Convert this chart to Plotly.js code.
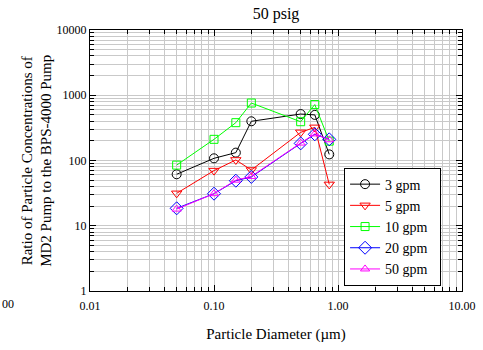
<!DOCTYPE html>
<html>
<head>
<meta charset="utf-8">
<script src="https://cdn.plot.ly/plotly-3.0.1.min.js"></script>
<style>
  html, body { margin: 0; padding: 0; background: #ffffff; }
  #chart { width: 483px; height: 350px; }
</style>
</head>
<body>
<div id="chart"></div>
<script>
// Particle diameters (µm) at which concentrations were compared
const diameters = [0.05, 0.1, 0.15, 0.2, 0.5, 0.65, 0.85];

// Concentration ratio, MD2 pump / BPS-4000 pump, at 50 psig
const ratio3gpm  = [61.5, 108, 132, 399, 515, 500, 124];
const ratio5gpm  = [31.4, 70, 102, 71.5, 270, 322, 43];
const ratio10gpm = [85, 211, 380, 760, 393, 720, 198];
const ratio20gpm = [18.5, 31, 49, 56, 183, 252, 211];
const ratio50gpm = [18, 31, 50, 57, 185, 256, 208];

const seriesNames = ['3 gpm', '5 gpm', '10 gpm', '20 gpm', '50 gpm'];
const seriesValues = [ratio3gpm, ratio5gpm, ratio10gpm, ratio20gpm, ratio50gpm];
const seriesColors = ['#000000', '#ff0000', '#00ff00', '#0000ff', '#ff00ff'];
const seriesSymbols = ['circle-open', 'triangle-down-open', 'square-open', 'diamond-open', 'triangle-up-open'];
const seriesSizes = [9, 9, 8, 10, 8];

const xTickVals = [0.01, 0.1, 1, 10];
const xTickText = ['0.01', '0.10', '1.00', '10.00'];
const yTickVals = [1, 10, 100, 1000, 10000];
const yTickText = ['1', '10', '100', '1000', '10000'];

// minor ticks at 2..9 within each decade
function minorLogTicks(lo, hi) {
  const out = [];
  for (let e = lo; e < hi; e++) {
    for (let m = 2; m <= 9; m++) out.push(m * Math.pow(10, e));
  }
  return out;
}

const serif = 'Liberation Serif, Times New Roman, serif';
const gridColor = '#c9c9c9';
// a little right-hand padding inside the legend box
const legendPad = '\u00a0\u00a0';

const traces = seriesNames.map((name, i) => ({
  type: 'scatter',
  mode: 'lines+markers',
  name: name + legendPad,
  x: diameters,
  y: seriesValues[i],
  line: { color: seriesColors[i], width: 1 },
  marker: {
    symbol: seriesSymbols[i],
    size: seriesSizes[i],
    color: seriesColors[i],
    line: { color: seriesColors[i], width: 1 }
  }
}));

const axisCommon = {
  type: 'log',
  showline: true,
  linecolor: '#000000',
  linewidth: 1,
  mirror: 'allticks',
  ticks: 'inside',
  ticklen: 6,
  tickcolor: '#000000',
  tickwidth: 1,
  showgrid: true,
  gridcolor: gridColor,
  gridwidth: 1,
  zeroline: false,
  tickfont: { family: serif, size: 12, color: '#000000' }
};

const layout = {
  width: 483,
  height: 350,
  paper_bgcolor: '#ffffff',
  plot_bgcolor: '#ffffff',
  margin: { l: 90, r: 21, t: 30, b: 59 },
  showlegend: true,
  title: {
    text: '50 psig',
    font: { family: serif, size: 16, color: '#000000' },
    x: 0.5, xref: 'paper',
    y: 0.962, yref: 'container', yanchor: 'middle'
  },
  xaxis: Object.assign({}, axisCommon, {
    range: [-2, 1],
    tickmode: 'array',
    tickvals: xTickVals,
    ticktext: xTickText,
    ticklabelstandoff: 4,
    minor: {
      tickmode: 'array',
      tickvals: minorLogTicks(-2, 1),
      ticks: 'inside',
      ticklen: 4,
      tickcolor: '#000000',
      showgrid: true,
      gridcolor: gridColor,
      gridwidth: 1
    },
    title: {
      text: 'Particle Diameter (\u00b5m)',
      font: { family: serif, size: 15, color: '#000000' },
      standoff: 16
    }
  }),
  yaxis: Object.assign({}, axisCommon, {
    range: [0, 4],
    tickmode: 'array',
    tickvals: yTickVals,
    ticktext: yTickText,
    minor: {
      tickmode: 'array',
      tickvals: minorLogTicks(0, 4),
      ticks: 'inside',
      ticklen: 4,
      tickcolor: '#000000',
      showgrid: true,
      gridcolor: gridColor,
      gridwidth: 1
    }
  }),
  legend: {
    x: 0.683, xanchor: 'left',
    y: 0.473, yanchor: 'top',
    bgcolor: '#ffffff',
    bordercolor: '#000000',
    borderwidth: 1,
    font: { family: serif, size: 14, color: '#000000' },
    itemwidth: 30
  },
  annotations: [
    {
      // two-line vertical axis title
      text: 'Ratio of Particle Concentrations of<br>MD2 Pump to the BPS-4000 Pump',
      textangle: -90,
      xref: 'paper', yref: 'paper',
      x: (36.5 - 90) / 371, y: 0.5,
      xanchor: 'center', yanchor: 'middle',
      showarrow: false,
      font: { family: serif, size: 15, color: '#000000' }
    },
    {
      // stray clipped tick label at the left edge
      text: '00',
      xref: 'paper', yref: 'paper',
      x: (0 - 90) / 371, y: (291 - 304) / 261,
      xanchor: 'left', yanchor: 'middle',
      showarrow: false,
      font: { family: serif, size: 12, color: '#000000' }
    }
  ]
};

Plotly.newPlot('chart', traces, layout, { displayModeBar: false, staticPlot: true });
</script>
</body>
</html>
